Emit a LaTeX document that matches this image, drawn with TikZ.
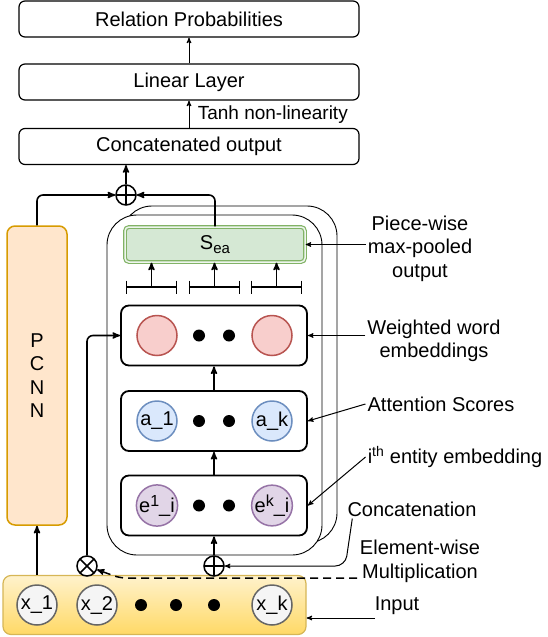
\documentclass[tikz,border=0pt]{standalone}
\usepackage{fontspec}
\setmainfont{Liberation Sans}
\usepackage{tikz}
\usetikzlibrary{arrows,positioning,calc}

\definecolor{pinkfill}{HTML}{F8CECC}
\definecolor{pinkline}{HTML}{B85450}
\definecolor{bluefill}{HTML}{DAE8FC}
\definecolor{blueline}{HTML}{6C8EBF}
\definecolor{purplefill}{HTML}{E1D5E7}
\definecolor{purpleline}{HTML}{9673A6}
\definecolor{greyfill}{HTML}{F5F5F5}
\definecolor{greyline}{HTML}{666666}
\definecolor{greenfill}{HTML}{D5E8D4}
\definecolor{greenline}{HTML}{82B366}
\definecolor{orangefill}{HTML}{FFE6CC}
\definecolor{orangeline}{HTML}{D79B00}
\definecolor{inputtop}{HTML}{FFF2CC}
\definecolor{inputbot}{HTML}{FFD966}
\definecolor{inputline}{HTML}{D6B656}

\newcommand{\supr}[1]{\raisebox{6pt}{\fontsize{16}{16}\selectfont #1}}

\begin{document}
\begin{tikzpicture}[x=1pt, y=-1pt, >=stealth',
  every node/.style={font=\fontsize{20}{23.5}\selectfont},
  layer/.style={draw, rounded corners=6, line width=1.2pt, minimum width=340pt, minimum height=36pt, inner sep=0},
  block/.style={draw, rounded corners=8, line width=1.8pt, minimum width=186pt, minimum height=60pt},
  tok/.style={circle, draw, line width=1.5pt, minimum size=40pt, inner sep=0},
  bullet/.style={circle, fill, inner sep=0, minimum size=12pt},
  oplus/.style={circle, draw, fill=white, line width=1.5pt, minimum size=20pt, inner sep=0,
    path picture={\draw[line width=1.5pt] (path picture bounding box.north) -- (path picture bounding box.south)
      (path picture bounding box.west) -- (path picture bounding box.east);}},
  otimes/.style={circle, draw, fill=white, line width=1.5pt, minimum size=20pt, inner sep=0,
    path picture={\draw[line width=1.5pt] (path picture bounding box.south west) -- (path picture bounding box.north east)
      (path picture bounding box.north west) -- (path picture bounding box.south east);}},
  note/.style={align=center, inner sep=2pt},
  link/.style={->, line width=1.6pt},
  thinlink/.style={->, line width=1pt}]
\useasboundingbox (0,0) rectangle (548,637);

% stacked attention frames
\draw[line width=0.9pt, rounded corners=30, fill=white] (122,206) rectangle (337,543);
\draw[line width=0.9pt, rounded corners=30, fill=white] (107,215) rectangle (322,555);

\node[layer] (rel) at (189,19) {Relation Probabilities};
\node[layer] (lin) at (189,82) {Linear Layer};
\node[layer] (cat) at (189,146.5) {Concatenated output};

\node[draw=orangeline, fill=orangefill, rounded corners=8, line width=1.5pt, minimum width=60pt, minimum height=299pt, align=center] (pcnn) at (37,375.5) {P\\C\\N\\N};

\node[draw=greenline, double=greenfill!40, double distance=1.5pt, line width=1.2pt, fill=greenfill, rounded corners=4, minimum width=180pt, minimum height=35pt] (sea) at (215,244.5) {S\raisebox{-4pt}{\fontsize{15}{15}\selectfont ea}};

\node[block] (wt) at (214,335.5) {};
\node[block] (att) at (214,421) {};
\node[block] (ent) at (214,505.5) {};

\node[tok, fill=pinkfill, draw=pinkline] (w1) at (157,335.5) {};
\node[tok, fill=pinkfill, draw=pinkline] (wk) at (272,335.5) {};
\node[tok, fill=bluefill, draw=blueline] (a1) at (157,421) {a\_1};
\node[tok, fill=bluefill, draw=blueline] (ak) at (272,421) {a\_k};
\node[tok, fill=purplefill, draw=purpleline] (e1) at (157,505.5) {e\supr{1}\_i};
\node[tok, fill=purplefill, draw=purpleline] (ek) at (272,505.5) {e\supr{k}\_i};
\foreach \r/\y in {w/335.5, a/421, e/505.5} {
  \node[bullet] (\r d1) at (199,\y) {};
  \node[bullet] (\r d2) at (229,\y) {};
}

% input sentence
\node[draw=inputline, top color=inputtop, bottom color=inputbot, rounded corners=8, line width=1.2pt, minimum width=303pt, minimum height=59pt] (inp) at (154.5,605) {};
\node[tok, fill=greyfill, draw=greyline] (x1) at (37,605) {x\_1};
\node[tok, fill=greyfill, draw=greyline] (x2) at (97,605) {x\_2};
\node[tok, fill=greyfill, draw=greyline] (xk) at (272,605) {x\_k};
\foreach \i/\x in {1/141, 2/176, 3/214}
  \node[bullet] (xd\i) at (\x,605) {};

\node[oplus] (sum1) at (126,195) {};
\node[oplus] (sum2) at (214,566) {};
\node[otimes] (prod) at (87,566) {};

\draw[thinlink] (lin) -- (rel);
\draw[thinlink] (cat) -- node[right, xshift=5pt, font=\fontsize{19}{20}\selectfont] (tanh) {Tanh non-linearity} (lin);
\draw[link] (sum1) -- (sum1 |- cat.south);
\draw[link, rounded corners=6] (pcnn.north) |- (sum1.west);
\draw[link, rounded corners=6] (sea.north) |- (sum1.east);

% piece-wise pooling brackets
\foreach \i/\x in {1/151.5, 2/214.5, 3/276.5} {
  \coordinate (br\i) at (\x,287);
  \draw[line width=1.5pt] ([xshift=-25pt]br\i) ++(0,-6.5) -- ++(0,13) ++(0,-6.5) -- ++(50,0) ++(0,-6.5) -- ++(0,13);
  \draw[link] (br\i) -- (br\i |- sea.south);
}

\draw[link] (att) -- (wt);
\draw[link] (ent) -- (att);
\draw[link] (sum2) -- (ent);
\draw[link, rounded corners=6] (prod) |- (wt.west);
\draw[link] (x1 |- inp.north) -- (pcnn);

% annotations
\node[note] (pwlbl) at (420,248.5) {Piece-wise\\max-pooled\\output};
\node[note] (wwlbl) at (434,341) {Weighted word\\embeddings};
\node[note] (attlbl) at (441,404) {Attention Scores};
\node[note] (entlbl) at (455,457) {i\textsuperscript{th} entity embedding};
\node[note] (catlbl) at (412,509) {Concatenation};
\node[note] (mullbl) at (420,561.5) {Element-wise\\Multiplication};
\node[note] (inlbl) at (397,606) {Input};
\coordinate (mulfoot) at (357,578);
\coordinate (infoot) at (375,618);

\draw[thinlink] (pwlbl.west |- sea.east) -- (sea.east);
\draw[thinlink] (wwlbl.west |- wt.east) -- (wt.east);
\draw[thinlink] (attlbl.west) -- (att.east);
\draw[thinlink] (entlbl.west) -- (ent.east);
\draw[thinlink, rounded corners=10] ([xshift=7pt]catlbl.south west) -- (catlbl.south west |- sum2) -- (sum2.east);
\draw[->, line width=1.5pt, dash pattern=on 8pt off 5pt, rounded corners=6] (mulfoot) -- (120,578) -- (prod.-20);
\draw[thinlink] (infoot) -- (infoot -| inp.east);
\end{tikzpicture}
\end{document}
